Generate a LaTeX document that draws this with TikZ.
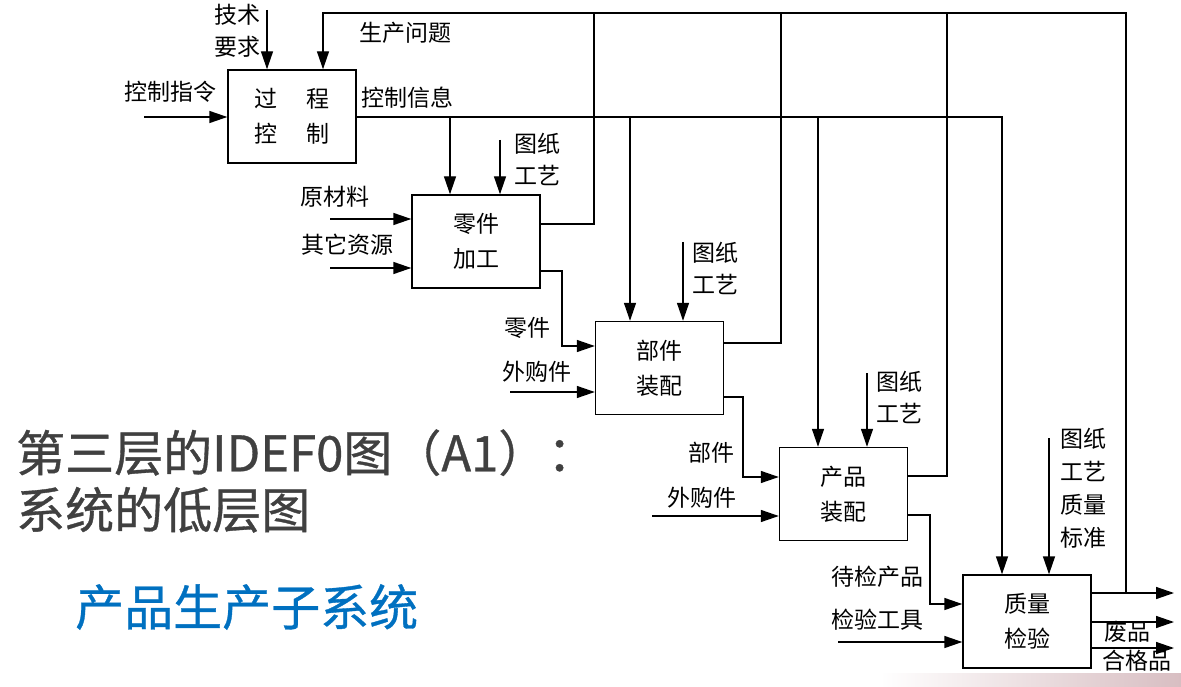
\documentclass[tikz,border=0pt]{standalone}
\usepackage{fontspec}
\usetikzlibrary{arrows.meta,positioning}
\newfontfamily\cjk{Noto Sans CJK SC}
\newfontfamily\cjkhead[FakeBold=0.7]{Noto Sans CJK SC}
\definecolor{titlegray}{HTML}{404040}
\definecolor{titleblue}{HTML}{0070C0}
\definecolor{bandpink}{HTML}{D8BEC2}
\begin{document}
\begin{tikzpicture}[x=1pt, y=-1pt,
  box/.style={draw, line width=1.4pt, minimum width=128pt, minimum height=93pt, inner sep=0pt, align=center, font=\cjk\fontsize{23}{35}\selectfont},
  lbl/.style={inner sep=0pt, align=center, font=\cjk\fontsize{23}{32}\selectfont},
  arr/.style={line width=1.4pt, -{Triangle[length=18pt,width=12pt]}},
  ln/.style={line width=1.4pt}]
\useasboundingbox (0,0) rectangle (1181,687);
\shade[left color=white, right color=bandpink] (880,673) rectangle (1181,687);
\node (ctl) [box] at (292,116.5) {过\hspace{30pt}程\\控\hspace{30pt}制};
\node (parts) [box] at (476,241.5) {零件\\加工};
\node (asm) [box] at (659.5,368) {部件\\装配};
\node (prod) [box] at (843.5,494) {产品\\装配};
\node (qc) [box] at (1027,621.5) {质量\\检验};
\node (cmd) [lbl] at (170,92) {控制指令};
\node (tech) [lbl] at (237,31) {技术\\要求};
\node (prob) [lbl] at (405,33) {生产问题};
\node (info) [lbl] at (407,98) {控制信息};
\node (raw) [lbl] at (335,197) {原材料};
\node (res) [lbl] at (347,245) {其它资源};
\node (dw1) [lbl] at (537,159) {图纸\\工艺};
\node (pt) [lbl] at (527,328) {零件};
\node (buy1) [lbl] at (537,372) {外购件};
\node (dw2) [lbl] at (715,268) {图纸\\工艺};
\node (comp) [lbl] at (711,453) {部件};
\node (buy2) [lbl] at (702,498) {外购件};
\node (dw3) [lbl] at (899,397) {图纸\\工艺};
\node (tbc) [lbl] at (877,577) {待检产品};
\node (tool) [lbl] at (877,620) {检验工具};
\node (dw4) [lbl, font=\cjk\fontsize{23}{33}\selectfont] at (1083,488) {图纸\\工艺\\质量\\标准};
\node (scrap) [lbl] at (1127,632) {废品};
\node (good) [lbl] at (1137,661) {合格品};
\node (title) [anchor=west, align=left, inner sep=0pt, text=titlegray, font=\cjkhead\fontsize{49}{57}\selectfont] at (16,481) {第三层的IDEF0图（A1）：\\系统的低层图};
\node (subsys) [anchor=west, inner sep=0pt, text=titleblue, font=\cjkhead\fontsize{49}{57}\selectfont] at (75,607) {产品生产子系统};
\coordinate (cmdin) at (144,117);
\draw[arr] (cmdin) -- (cmdin -| ctl.west);
\coordinate (techin) at (267,10);
\draw[arr] (techin) -- (techin |- ctl.north);
\coordinate (fbl) at (323,13);
\coordinate (fbr) at (1126,13);
\coordinate (fbq) at (1126,593);
\draw[arr] (fbq) -- (fbr) -- (fbl) -- (fbl |- ctl.north);
\coordinate (ci) at (1002,117);
\draw[arr] (ctl.east |- ci) -- (ci) -- (ci |- qc.north);
\foreach \n/\x in {parts/450, asm/630, prod/818} {
  \coordinate (ci-\n) at (\x,117);
  \draw[arr] (ci-\n) -- (ci-\n |- \n.north);
}
\foreach \n/\x/\y in {parts/500/140, asm/683/242, prod/867/373, qc/1049/438} {
  \coordinate (dw-\n) at (\x,\y);
  \draw[arr] (dw-\n) -- (dw-\n |- \n.north);
}
\foreach \n/\x/\y in {parts/594/224, asm/781/343, prod/947/476} {
  \coordinate (fb-\n) at (\x,\y);
  \draw[ln] (fb-\n -| \n.east) -- (fb-\n) -- (fb-\n |- fbl);
}
\foreach \n/\x/\y [count=\i] in {parts/330/219, parts/330/268, asm/510/392, prod/652/516, qc/838/642} {
  \coordinate (src\i) at (\x,\y);
  \draw[arr] (src\i) -- (src\i -| \n.west);
}
\foreach \a/\b/\x/\ya/\yb in {parts/asm/562/271/346, asm/prod/743/397/477, prod/qc/930/515/604} {
  \coordinate (o1-\a) at (\x,\ya);
  \coordinate (o2-\a) at (\x,\yb);
  \draw[arr] (o1-\a -| \a.east) -- (o1-\a) -- (o2-\a) -- (o2-\a -| \b.west);
}
\foreach \y [count=\i] in {593,622,648} {
  \coordinate (out\i) at (1174,\y);
  \draw[arr] (out\i -| qc.east) -- (out\i);
}
\end{tikzpicture}
\end{document}
